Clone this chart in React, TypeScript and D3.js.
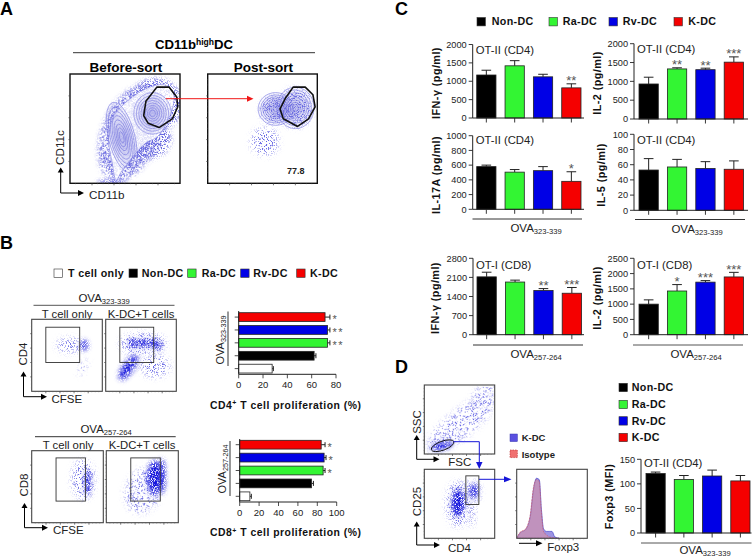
import React from 'react';
import * as d3 from 'd3';

const groups = ['Non-DC', 'Ra-DC', 'Rv-DC', 'K-DC'];
const groupColors = ['#000000', '#33f533', '#0000e6', '#f50000'];

const ifnCd4 = [1170, 1420, 1120, 820];
const ifnCd4Err = [1300, 1560, 1190, 930];
const ifnCd4Stars = ['', '', '', '**'];
const il2Cd4 = [930, 1330, 1310, 1510];
const il2Cd4Err = [1110, 1360, 1350, 1650];
const il2Cd4Stars = ['', '**', '**', '***'];
const il17 = [580, 505, 525, 380];
const il17Err = [600, 540, 580, 510];
const il17Stars = ['', '', '', '*'];
const il5 = [53, 57, 55, 54];
const il5Err = [68, 67, 64, 65];
const noStars = ['', '', '', ''];
const ifnCd8 = [2120, 1930, 1620, 1520];
const ifnCd8Err = [2290, 2000, 1690, 1730];
const ifnCd8Stars = ['', '', '**', '***'];
const il2Cd8 = [1000, 1430, 1720, 1890];
const il2Cd8Err = [1140, 1640, 1770, 2040];
const il2Cd8Stars = ['', '*', '***', '***'];
const foxp3 = [121, 109, 116, 106];
const foxp3Err = [124, 117, 128, 117];

const propGroups = ['K-DC', 'Rv-DC', 'Ra-DC', 'Non-DC', 'T cell only'];
const propColors = ['#f50000', '#0000e6', '#33f533', '#000000', '#ffffff'];
const cd4Prolif = [71, 73, 73, 62, 27.5];
const cd4ProlifErr = [75, 75, 75, 63.5, 28.5];
const cd4Stars = ['*', '**', '**', '', ''];
const cd8Prolif = [84, 87, 86, 74, 10.5];
const cd8ProlifErr = [88, 89, 88, 76, 12];
const cd8Stars = ['*', '*', '*', '', ''];

// Flow cytometry shapes, all in plot units 0-100 (y up): [cx, cy, rx, ry, rotationDeg, kind]
type Blob = [number, number, number, number, number, 'dense' | 'mid' | 'sparse'];
const beforeBlobs: Blob[] = [[55, 46, 26, 46, 22, 'mid'], [78, 72, 24, 24, 0, 'mid'], [68, 40, 24, 18, 0, 'mid'], [38, 1, 13, 1.5, 0, 'dense']];
const postBlobs: Blob[] = [[80, 69, 15, 17, 0, 'sparse'], [62, 67, 13, 12, 0, 'sparse'], [52, 38, 12, 12, 0, 'sparse']];
const cd4Only: Blob[] = [[54, 64, 18, 9, 0, 'sparse'], [74.5, 64, 5, 7, 0, 'dense'], [73, 33, 4, 11, 25, 'sparse']];
const cd4Kdc: Blob[] = [[53, 66, 32, 14, 0, 'sparse'], [39, 67, 6, 6, 0, 'dense'], [53, 67, 6, 6, 0, 'dense'], [67, 67, 6, 6, 0, 'dense'], [75, 63, 4, 5, 0, 'dense'], [32, 33, 8, 20, 35, 'dense'], [70, 35, 20, 14, 0, 'sparse']];
const cd8Only: Blob[] = [[72, 60, 15, 26, 0, 'sparse'], [78, 55, 3.5, 18, 0, 'dense']];
const cd8Kdc: Blob[] = [[52, 45, 24, 32, 25, 'sparse'], [67, 62, 10, 24, 0, 'dense'], [77, 65, 4.5, 24, 0, 'dense']];
const sscBlobs: Blob[] = [[52, 44, 58, 18, -38, 'sparse'], [25, 12, 16, 5.5, -12, 'dense'], [85, 85, 20, 12, -40, 'sparse']];
const cd25Blobs: Blob[] = [[48, 50, 16, 32, 0, 'sparse'], [48, 51, 9, 20, 0, 'dense'], [70, 68, 6, 10, 0, 'dense'], [67, 36, 4, 19, 0, 'sparse'], [68, 68, 11, 14, 0, 'sparse']];

const beforeOutline: [number, number][] = [[42, 3], [38, 21], [35, 40], [40, 62], [53, 76], [70, 87], [86, 90], [94, 82], [93, 68], [80, 43], [69, 37], [57, 24], [47, 11]];
const beforeGate: [number, number][] = [[79, 88], [90, 88], [97, 79], [98, 70], [93, 59], [81, 51], [71, 55], [67, 62], [69, 75]];
const postGate: [number, number][] = [[78, 88], [89, 88], [96, 81], [98, 70], [92, 59], [82, 52], [69, 59], [66, 68], [71, 78]];
const contourLevels = [1, 0.86, 0.74, 0.62, 0.5, 0.38, 0.27, 0.16];
const ridgeContour: [number, number, number, number, number] = [47, 42, 12, 33, -14];
const upperContour: [number, number, number, number, number] = [75, 64, 17, 19, 0];
const postContour: [number, number, number, number, number] = [80, 69, 17, 19, 0];
const postLobeContour: [number, number, number, number, number] = [62, 68, 16, 15, 0];

const tickPositions = [20, 40, 60, 80];
const minorPositions = [5, 10, 15, 25, 30, 35, 45, 50, 55, 65, 70, 75, 85, 90, 95];

const histX = [0, 5, 12, 19, 24, 28, 32, 35, 38, 42, 46, 50, 54, 60];
const histKdc = [0, 8, 12, 30, 72, 87, 85, 42, 14, 10, 10, 10, 2, 0];
const histIso = [0, 9, 13, 33, 75, 85, 82, 38, 10, 5, 2, 1, 0, 0];

const FONT = '"Liberation Sans", Arial, sans-serif';

type BarProps = {
  ox: number; x0: number; x1: number; xEnd: number; yTop: number; yBase: number; max: number; ticks: number[];
  vals: number[]; errs: number[]; stars: string[]; title: string; titleY: number; label: string; labelX: number; labelY: number;
};

function VBars(p: BarProps) {
  const y = d3.scaleLinear().domain([0, p.max]).range([p.yBase, p.yTop]);
  const x = d3.scaleBand<string>().domain(groups).range([p.x0, p.x1]).paddingInner(0.32).paddingOuter(0);
  return (
    <g fontFamily={FONT}>
      {groups.map((g, i) => {
        const bx = x(g)!; const w = x.bandwidth(); const c = bx + w / 2;
        return (
          <g key={g}>
            <line x1={c} x2={c} y1={y(p.errs[i])} y2={y(p.vals[i])} stroke="#222" strokeWidth={1} />
            <line x1={c - w / 4} x2={c + w / 4} y1={y(p.errs[i])} y2={y(p.errs[i])} stroke="#222" strokeWidth={1} />
            <rect x={bx} y={y(p.vals[i])} width={w} height={p.yBase - y(p.vals[i])} fill={groupColors[i]} stroke="#222" strokeWidth={0.8} />
            <line x1={c} x2={c} y1={p.yBase} y2={p.yBase + 4.5} stroke="#222" strokeWidth={0.9} />
            {p.stars[i] && <text x={c} y={y(p.errs[i]) + 1.5} textAnchor="middle" fontSize={13} fill="#555">{p.stars[i]}</text>}
          </g>
        );
      })}
      <line x1={p.ox} x2={p.xEnd} y1={p.yBase} y2={p.yBase} stroke="#222" strokeWidth={1} />
      <line x1={p.ox} x2={p.ox} y1={p.yTop} y2={p.yBase} stroke="#222" strokeWidth={1} />
      {p.ticks.map(t => (
        <g key={t}>
          <line x1={p.ox - 4} x2={p.ox} y1={y(t)} y2={y(t)} stroke="#222" strokeWidth={0.9} />
          <text x={p.ox - 6} y={y(t) + 3.2} textAnchor="end" fontSize={9.2} fill="#222">{t}</text>
        </g>
      ))}
      <text x={p.ox + 3} y={p.titleY} fontSize={11.3} fill="#222">{p.title}</text>
      <text transform={`translate(${p.labelX},${p.labelY}) rotate(-90)`} textAnchor="middle" fontSize={10.8} fontWeight="bold" fill="#111" letterSpacing={0.45}>{p.label}</text>
    </g>
  );
}

function Ova({ cx, y, sub, size = 11.5 }: { cx: number; y: number; sub: string; size?: number }) {
  return (
    <text x={cx} y={y} textAnchor="middle" fontSize={size} fontFamily={FONT} fill="#222">
      OVA<tspan fontSize={size * 0.66} dy={2}>{sub}</tspan>
    </text>
  );
}

function HBars(p: { ox: number; xEnd: number; yTop: number; yBase: number; y0: number; y1: number; max: number; ticks: number[]; vals: number[]; errs: number[]; stars: string[] }) {
  const x = d3.scaleLinear().domain([0, p.max]).range([p.ox, p.xEnd]);
  const y = d3.scaleBand<string>().domain(propGroups).range([p.y0, p.y1]).paddingInner(0.32).paddingOuter(0);
  return (
    <g fontFamily={FONT}>
      {propGroups.map((g, i) => {
        const by = y(g)!; const h = y.bandwidth(); const c = by + h / 2;
        return (
          <g key={g}>
            <line x1={x(p.vals[i])} x2={x(p.errs[i])} y1={c} y2={c} stroke="#222" />
            <line x1={x(p.errs[i])} x2={x(p.errs[i])} y1={c - 2.5} y2={c + 2.5} stroke="#222" />
            <rect x={p.ox} y={by} width={x(p.vals[i]) - p.ox} height={h} fill={propColors[i]} stroke="#222" strokeWidth={0.8} />
            <line x1={p.ox - 4} x2={p.ox} y1={c} y2={c} stroke="#222" strokeWidth={0.8} />
            {p.stars[i] && <text x={x(p.errs[i]) + 2.5} y={c + 6.2} fontSize={11} letterSpacing={1.5} fill="#555">{p.stars[i]}</text>}
          </g>
        );
      })}
      <line x1={p.ox} x2={p.ox} y1={p.yTop} y2={p.yBase} stroke="#222" />
      <line x1={p.ox} x2={p.xEnd} y1={p.yBase} y2={p.yBase} stroke="#222" />
      {p.ticks.map(t => (
        <g key={t}>
          <line x1={x(t)} x2={x(t)} y1={p.yBase} y2={p.yBase + 4} stroke="#222" strokeWidth={0.8} />
          <text x={x(t)} y={p.yBase + 14} textAnchor="middle" fontSize={9.5} fill="#222">{t}</text>
        </g>
      ))}
    </g>
  );
}

type Ring = [number, number, number, number, number];
function Flow(p: {
  x0: number; x1: number; y0: number; y1: number; blobs?: Blob[]; outline?: [number, number][]; gate?: [number, number][];
  rings?: Ring[]; rect?: [number, number, number, number]; ell?: Ring; stroke?: string; sw?: number; children?: React.ReactNode; clip: string;
}) {
  const x = d3.scaleLinear().domain([0, 100]).range([p.x0, p.x1]);
  const y = d3.scaleLinear().domain([0, 100]).range([p.y1, p.y0]);
  const ux = (p.x1 - p.x0) / 100; const uy = (p.y1 - p.y0) / 100;
  const closed = d3.line<[number, number]>().x(d => x(d[0])).y(d => y(d[1])).curve(d3.curveCatmullRomClosed.alpha(0.5));
  const poly = d3.line<[number, number]>().x(d => x(d[0])).y(d => y(d[1])).curve(d3.curveLinearClosed);
  const filt = { dense: 'url(#denseF)', mid: 'url(#midF)', sparse: 'url(#sparseF)' };
  const cols = { dense: '#1414dc', mid: '#6a6ae0', sparse: '#6464e4' };
  return (
    <g>
      <clipPath id={p.clip}><rect x={p.x0} y={p.y0} width={p.x1 - p.x0} height={p.y1 - p.y0} /></clipPath>
      <rect x={p.x0} y={p.y0} width={p.x1 - p.x0} height={p.y1 - p.y0} fill="#fff" />
      <g clipPath={`url(#${p.clip})`}>
        {p.blobs?.map((b, i) => (
          <ellipse key={i} cx={0} cy={0} rx={b[2] * ux} ry={b[3] * uy} transform={`translate(${x(b[0])},${y(b[1])}) rotate(${b[4]})`} fill={cols[b[5]]} filter={filt[b[5]]} />
        ))}
        {p.outline && <path d={closed(p.outline)!} fill="#fff" fillOpacity={0.8} stroke="#8484e4" strokeWidth={0.6} />}
        {p.rings?.map((r, i) => contourLevels.map(l => (
          <ellipse key={`${i}-${l}`} cx={0} cy={0} rx={r[2] * ux * l} ry={r[3] * uy * l} transform={`translate(${x(r[0])},${y(r[1])}) rotate(${r[4]})`} fill="#8080e8" fillOpacity={0.07} stroke="#7070de" strokeWidth={0.55} />
        )))}
        {p.children}
      </g>
      {p.gate && <path d={poly(p.gate)!} fill="none" stroke="#111" strokeWidth={1.6} strokeLinejoin="round" />}
      {p.rect && <rect x={x(p.rect[0])} y={y(p.rect[3])} width={x(p.rect[1]) - x(p.rect[0])} height={y(p.rect[2]) - y(p.rect[3])} fill="none" stroke="#333" strokeWidth={0.9} />}
      {p.ell && <ellipse cx={0} cy={0} rx={p.ell[2] * ux} ry={p.ell[3] * uy} transform={`translate(${x(p.ell[0])},${y(p.ell[1])}) rotate(${p.ell[4]})`} fill="none" stroke="#111" strokeWidth={0.9} />}
      <rect x={p.x0} y={p.y0} width={p.x1 - p.x0} height={p.y1 - p.y0} fill="none" stroke={p.stroke ?? '#444'} strokeWidth={p.sw ?? 1.1} />
      {tickPositions.map(t => (
        <g key={t} stroke="#444" strokeWidth={0.7}>
          <line x1={x(t)} x2={x(t)} y1={p.y1} y2={p.y1 + 2} />
          <line x1={p.x0} x2={p.x0 - 1.5} y1={y(t)} y2={y(t)} />
        </g>
      ))}
      {minorPositions.map(t => (
        <g key={t} stroke="#666" strokeWidth={0.4}>
          <line x1={x(t)} x2={x(t)} y1={p.y1} y2={p.y1 + 1} />
          <line x1={p.x0} x2={p.x0 - 0.8} y1={y(t)} y2={y(t)} />
        </g>
      ))}
    </g>
  );
}

function LArrow({ x, y, top, right, color = '#000' }: { x: number; y: number; top: number; right: number; color?: string }) {
  return (
    <g stroke={color} fill={color}>
      <path d={`M${x},${top + 4}V${y}H${right - 5}`} fill="none" strokeWidth={1} />
      <path d={`M${x - 3},${top + 5}L${x},${top}L${x + 3},${top + 5}Z`} stroke="none" />
      <path d={`M${right - 6},${y - 3}L${right},${y}L${right - 6},${y + 3}Z`} stroke="none" />
    </g>
  );
}

function Legend({ items }: { items: { label: string; col: string; sx: number; sy: number; tx: number }[] }) {
  return (
    <g fontFamily={FONT}>
      {items.map(it => (
        <g key={it.label}>
          <rect x={it.sx} y={it.sy - 4} width={8.4} height={8.4} fill={it.col} stroke="#333" strokeWidth={0.6} />
          <text x={it.tx} y={it.sy + 3.8} fontSize={10.7} fontWeight="bold" fill="#111" letterSpacing={0.35}>{it.label}</text>
        </g>
      ))}
    </g>
  );
}

export default function App() {
  const hx = d3.scaleLinear().domain([0, 100]).range([516.7, 587.3]);
  const hy = d3.scaleLinear().domain([0, 100]).range([538.3, 469.3]);
  const area = d3.area<number>().x((_, i) => hx(histX[i])).y0(hy(0)).y1(d => hy(d)).curve(d3.curveMonotoneX);
  return (
    <svg width={755} height={558} style={{ position: 'absolute', left: 0, top: 0, background: '#fff' }} fontFamily={FONT}>
      <defs>
        <filter id="denseF" x="-80%" y="-80%" width="260%" height="260%" colorInterpolationFilters="sRGB">
          <feGaussianBlur in="SourceGraphic" stdDeviation="2.6" result="b" />
          <feTurbulence type="fractalNoise" baseFrequency="1.1" numOctaves="1" seed="2" result="n" />
          <feColorMatrix in="n" type="matrix" values="0 0 0 0 0  0 0 0 0 0  0 0 0 0 0  0 0 0 7 -2.6" result="t" />
          <feComposite in="b" in2="t" operator="in" />
        </filter>
        <filter id="midF" x="-40%" y="-40%" width="180%" height="180%" colorInterpolationFilters="sRGB">
          <feGaussianBlur in="SourceGraphic" stdDeviation="2.5" result="b" />
          <feTurbulence type="fractalNoise" baseFrequency="1.4" numOctaves="1" seed="4" result="n" />
          <feColorMatrix in="n" type="matrix" values="0 0 0 0 0  0 0 0 0 0  0 0 0 0 0  0 0 0 9 -4.3" result="t" />
          <feComposite in="b" in2="t" operator="in" />
        </filter>
        <filter id="sparseF" x="-60%" y="-60%" width="220%" height="220%" colorInterpolationFilters="sRGB">
          <feGaussianBlur in="SourceGraphic" stdDeviation="3.5" result="b" />
          <feTurbulence type="fractalNoise" baseFrequency="1.5" numOctaves="1" seed="9" result="n" />
          <feColorMatrix in="n" type="matrix" values="0 0 0 0 0  0 0 0 0 0  0 0 0 0 0  0 0 0 9 -4.8" result="t" />
          <feComposite in="b" in2="t" operator="in" />
        </filter>
      </defs>

      {/* Panel letters */}
      <g fontSize={18} fontWeight="bold" fill="#000">
        <text x={0} y={15}>A</text>
        <text x={0} y={249}>B</text>
        <text x={395} y={15}>C</text>
        <text x={395} y={373}>D</text>
      </g>

      {/* Panel A */}
      <text x={194} y={49} textAnchor="middle" fontSize={13.2} fontWeight="bold">CD11b<tspan fontSize={8.5} dy={-4}>high</tspan><tspan dy={4}>DC</tspan></text>
      <line x1={73} x2={315} y1={52.7} y2={52.7} stroke="#333" />
      <text x={126} y={72} textAnchor="middle" fontSize={13.5} fontWeight="bold">Before-sort</text>
      <text x={263.5} y={72} textAnchor="middle" fontSize={13.5} fontWeight="bold">Post-sort</text>
      <Flow clip="c1" x0={70} x1={180} y0={74} y1={183.3} blobs={beforeBlobs} outline={beforeOutline} rings={[ridgeContour, upperContour]} gate={beforeGate} stroke="#111" sw={1.4} />
      <Flow clip="c2" x0={207.7} x1={317.3} y0={74} y1={183.3} blobs={postBlobs} rings={[postLobeContour, postContour]} gate={postGate} stroke="#111" sw={1.4} />
      <line x1={165.7} x2={248} y1={98.7} y2={98.7} stroke="#f01818" strokeWidth={1} />
      <path d="M247,95.7L253.5,98.7L247,101.7Z" fill="#f01818" />
      <text x={295.7} y={174} textAnchor="middle" fontSize={9} fontWeight="bold" fill="#222">77.8</text>
      <LArrow x={60.7} y={193} top={167.5} right={84} />
      <text transform="translate(64,147.5) rotate(-90)" textAnchor="middle" fontSize={11.7} fill="#222">CD11c</text>
      <text x={89} y={199} fontSize={11.7} fill="#222">CD11b</text>

      {/* Panel B legend */}
      <Legend items={[
        { label: 'T cell only', col: '#fff', sx: 54, sy: 273, tx: 68 },
        { label: 'Non-DC', col: '#000', sx: 129, sy: 273, tx: 141.7 },
        { label: 'Ra-DC', col: '#33f533', sx: 187.7, sy: 273, tx: 201.7 },
        { label: 'Rv-DC', col: '#0000e6', sx: 240.7, sy: 273, tx: 253.3 },
        { label: 'K-DC', col: '#f50000', sx: 296.7, sy: 273, tx: 310 },
      ]} />

      {/* Panel B flow top */}
      <Ova cx={104} y={301.5} sub="323-339" />
      <line x1={33.5} x2={174.5} y1={305.3} y2={305.3} stroke="#555" />
      <text x={67} y={318} textAnchor="middle" fontSize={11.3} fill="#222">T cell only</text>
      <text x={141} y={318} textAnchor="middle" fontSize={11.3} fill="#222">K-DC+T cells</text>
      <Flow clip="c3" x0={31.7} x1={102.3} y0={319.3} y1={391.3} blobs={cd4Only} rect={[20, 68, 40, 89]} />
      <Flow clip="c4" x0={105.7} x1={176.3} y0={319.3} y1={391.3} blobs={cd4Kdc} rect={[20, 68, 40, 89]} />
      <LArrow x={23.5} y={396.7} top={371.5} right={47} />
      <text transform="translate(27,354) rotate(-90)" textAnchor="middle" fontSize={11.5} fill="#222">CD4</text>
      <text x={51.5} y={403} fontSize={11.5} fill="#222">CFSE</text>

      {/* Panel B flow bottom */}
      <Ova cx={106} y={432.5} sub="257-264" />
      <line x1={35} x2={175.7} y1={436.7} y2={436.7} stroke="#333" />
      <text x={68} y={449} textAnchor="middle" fontSize={11.3} fill="#222">T cell only</text>
      <text x={142} y={449} textAnchor="middle" fontSize={11.3} fill="#222">K-DC+T cells</text>
      <Flow clip="c5" x0={31.7} x1={103.3} y0={450.7} y1={522.7} blobs={cd8Only} rect={[34, 75, 30, 90]} />
      <Flow clip="c6" x0={106.3} x1={178.3} y0={450.7} y1={522.7} blobs={cd8Kdc} rect={[34, 75, 30, 90]} />
      <LArrow x={24.5} y={527.7} top={503} right={48} />
      <text transform="translate(28,485) rotate(-90)" textAnchor="middle" fontSize={11.5} fill="#222">CD8</text>
      <text x={53} y={533.5} fontSize={11.5} fill="#222">CFSE</text>

      {/* Panel B bars */}
      <HBars ox={238.7} xEnd={336} yTop={311} yBase={374.3} y0={312.7} y1={373} max={80} ticks={[0, 20, 40, 60, 80]} vals={cd4Prolif} errs={cd4ProlifErr} stars={cd4Stars} />
      <line x1={228} x2={228} y1={311.5} y2={366} stroke="#333" />
      <g transform="translate(224,340) rotate(-90)"><Ova cx={0} y={0} sub="323-339" size={11} /></g>
      <text x={210} y={408.5} fontSize={10.4} fontWeight="bold" fill="#111" letterSpacing={0.5}>CD4<tspan fontSize={7} dy={-3.5}>+</tspan><tspan dy={3.5}> T cell proliferation (%)</tspan></text>
      <HBars ox={239.7} xEnd={336.7} yTop={439} yBase={502} y0={440.3} y1={500.7} max={100} ticks={[0, 20, 40, 60, 80, 100]} vals={cd8Prolif} errs={cd8ProlifErr} stars={cd8Stars} />
      <line x1={230} x2={230} y1={441} y2={496} stroke="#333" />
      <g transform="translate(225.5,469) rotate(-90)"><Ova cx={0} y={0} sub="257-264" size={11} /></g>
      <text x={210} y={536} fontSize={10.4} fontWeight="bold" fill="#111" letterSpacing={0.5}>CD8<tspan fontSize={7} dy={-3.5}>+</tspan><tspan dy={3.5}> T cell proliferation (%)</tspan></text>

      {/* Panel C */}
      <Legend items={[
        { label: 'Non-DC', col: '#000', sx: 477, sy: 21.5, tx: 491.7 },
        { label: 'Ra-DC', col: '#33f533', sx: 549, sy: 21.5, tx: 562.7 },
        { label: 'Rv-DC', col: '#0000e6', sx: 609, sy: 21.5, tx: 622.7 },
        { label: 'K-DC', col: '#f50000', sx: 674, sy: 21.5, tx: 688.3 },
      ]} />
      <VBars ox={472.7} x0={476.7} x1={581} xEnd={584} yTop={44.5} yBase={118} max={2000} ticks={[0, 500, 1000, 1500, 2000]} vals={ifnCd4} errs={ifnCd4Err} stars={ifnCd4Stars} title="OT-II (CD4)" titleY={54} label="IFN-γ (pg/ml)" labelX={439.5} labelY={83} />
      <VBars ox={634} x0={639} x1={743.5} xEnd={748} yTop={43.7} yBase={119} max={2000} ticks={[0, 500, 1000, 1500, 2000]} vals={il2Cd4} errs={il2Cd4Err} stars={il2Cd4Stars} title="OT-II (CD4)" titleY={53} label="IL-2 (pg/ml)" labelX={600.5} labelY={83} />
      <VBars ox={472.7} x0={476.7} x1={581} xEnd={584} yTop={135.7} yBase={209.3} max={1000} ticks={[0, 200, 400, 600, 800, 1000]} vals={il17} errs={il17Err} stars={il17Stars} title="OT-II (CD4)" titleY={144} label="IL-17A (pg/ml)" labelX={439.5} labelY={175} />
      <VBars ox={634} x0={639} x1={743.5} xEnd={748} yTop={134.3} yBase={210.3} max={100} ticks={[0, 20, 40, 60, 80, 100]} vals={il5} errs={il5Err} stars={noStars} title="OT-II (CD4)" titleY={144} label="IL-5 (pg/ml)" labelX={605} labelY={175} />
      <line x1={472.5} x2={582} y1={219} y2={219} stroke="#333" />
      <line x1={635} x2={745} y1={219.5} y2={219.5} stroke="#333" />
      <Ova cx={536} y={232} sub="323-339" />
      <Ova cx={697} y={232.5} sub="323-339" />
      <VBars ox={473} x0={477} x1={581.5} xEnd={584} yTop={258.3} yBase={334.7} max={2800} ticks={[0, 700, 1400, 2100, 2800]} vals={ifnCd8} errs={ifnCd8Err} stars={ifnCd8Stars} title="OT-I (CD8)" titleY={269} label="IFN-γ (pg/ml)" labelX={439} labelY={298} />
      <VBars ox={634} x0={639} x1={743.5} xEnd={748} yTop={258.3} yBase={334.7} max={2500} ticks={[0, 500, 1000, 1500, 2000, 2500]} vals={il2Cd8} errs={il2Cd8Err} stars={il2Cd8Stars} title="OT-I (CD8)" titleY={269} label="IL-2 (pg/ml)" labelX={600.5} labelY={298} />
      <line x1={473} x2={583} y1={345} y2={345} stroke="#333" />
      <line x1={633} x2={743} y1={345} y2={345} stroke="#555" />
      <Ova cx={536} y={358} sub="257-264" />
      <Ova cx={696} y={357.5} sub="257-264" />

      {/* Panel D */}
      <Flow clip="c7" x0={424.3} x1={494.7} y0={385} y1={454} blobs={sscBlobs} ell={[26, 12, 17, 6.5, -20]} />
      <Flow clip="c8" x0={424.3} x1={494.7} y0={469.3} y1={538.3} blobs={cd25Blobs} rect={[59, 77.5, 49, 90.5]} />
      <Flow clip="c9" x0={516.7} x1={587.3} y0={469.3} y1={538.3}>
        <path d={area(histKdc)!} fill="#7d70d8" fillOpacity={0.75} stroke="#4444cc" strokeWidth={0.7} />
        <path d={area(histIso)!} fill="#e89090" fillOpacity={0.45} stroke="#d05060" strokeWidth={0.6} strokeDasharray="2 1" />
      </Flow>
      <path d="M453.5,441.7H479.3V464" fill="none" stroke="#1515d8" strokeWidth={1} />
      <path d="M476,462L479.3,469L482.5,462Z" fill="#1515d8" />
      <path d="M479,479.3H506" fill="none" stroke="#1515d8" strokeWidth={1} />
      <path d="M504,476.3L511.5,479.3L504,482.3Z" fill="#1515d8" />
      <rect x={510} y={434} width={7.4} height={7.6} fill="#5a50e0" stroke="#3a3ab0" strokeWidth={0.5} />
      <text x={521.7} y={441} fontSize={9.5} fontWeight="bold" fill="#222">K-DC</text>
      <rect x={510} y={450} width={7.4} height={7.6} fill="#f07070" stroke="#c03030" strokeWidth={0.6} strokeDasharray="1.5 1" />
      <text x={521.7} y={457.5} fontSize={9.5} fontWeight="bold" fill="#222">Isotype</text>
      <LArrow x={416.7} y={459.3} top={435} right={439.5} />
      <text transform="translate(420.5,422) rotate(-90)" textAnchor="middle" fontSize={11.5} fill="#222">SSC</text>
      <text x={448.3} y={466} fontSize={11.5} fill="#222">FSC</text>
      <LArrow x={416.7} y={545} top={521.5} right={440} />
      <text transform="translate(420.5,501.5) rotate(-90)" textAnchor="middle" fontSize={11.5} fill="#222">CD25</text>
      <text x={448} y={552} fontSize={11.5} fill="#222">CD4</text>
      <path d="M519,543.3H537" stroke="#000" strokeWidth={1} />
      <path d="M536,540.3L542.5,543.3L536,546.3Z" fill="#000" />
      <text x={547.3} y={551} fontSize={11.5} fill="#222">Foxp3</text>

      <Legend items={[
        { label: 'Non-DC', col: '#000', sx: 619, sy: 387.3, tx: 631.7 },
        { label: 'Ra-DC', col: '#33f533', sx: 619, sy: 404.3, tx: 631.7 },
        { label: 'Rv-DC', col: '#0000e6', sx: 619, sy: 420.7, tx: 631.7 },
        { label: 'K-DC', col: '#f50000', sx: 619, sy: 437.3, tx: 631.7 },
      ]} />
      <VBars ox={641} x0={646} x1={750} xEnd={751.5} yTop={459.3} yBase={533} max={150} ticks={[0, 50, 100, 150]} vals={foxp3} errs={foxp3Err} stars={noStars} title="OT-II (CD4)" titleY={467} label="Foxp3 (MFI)" labelX={612.5} labelY={496.5} />
      <line x1={641} x2={751.5} y1={543} y2={543} stroke="#555" />
      <Ova cx={705} y={554} sub="323-339" />
    </svg>
  );
}
